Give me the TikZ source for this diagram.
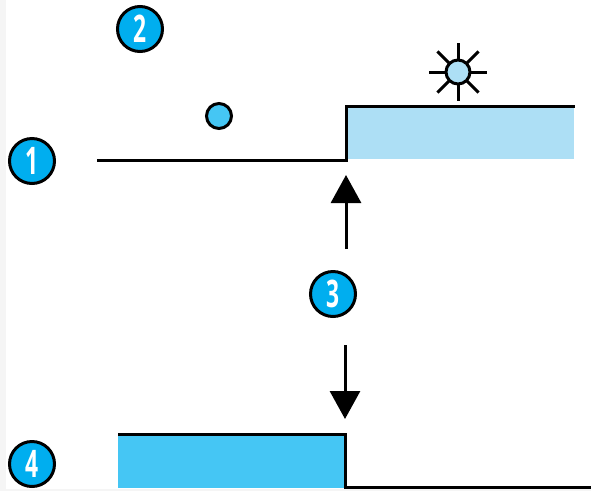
\documentclass[tikz,border=0pt]{standalone}
\usepackage{fontspec}
\setmainfont{Open Sans}
\usepackage{tikz}
\usetikzlibrary{arrows.meta}
\definecolor{badgeblue}{HTML}{00AEEF}
\definecolor{deepblue}{HTML}{45C6F4}
\definecolor{paleblue}{HTML}{ADDFF5}

\begin{document}
\begin{tikzpicture}[x=1pt,y=-1pt,
    badge/.style={circle,draw=black,line width=3pt,fill=badgeblue,minimum size=45pt,inner sep=0pt,
      text=white,font=\fontsize{38}{38}\selectfont\bfseries},
    level/.style={line width=3pt,line cap=rect},
    bigarrow/.style={line width=3pt,-{Triangle[length=28pt,width=30pt]}}]
          \useasboundingbox (0,0) rectangle (591,491);
          \fill[black!4] (0,0) rectangle (6,491);
          \fill[black!4] (0,489) rectangle (591,491);
          % upper level, the excited state
          \fill[paleblue] (346,106) rectangle (574,159);
          \draw[level] (98,160)--(346,160)--(346,106)--(573,106);
          \node[fill=deepblue,draw=black,line width=3pt,inner sep=0pt,minimum size=25pt,shape=circle] (dot) at (219,116) {};
          \foreach \a in {0,45,...,315}
            \draw[line width=3pt] (458,72)--++(\a:29);
          \node[fill=paleblue,draw=black,line width=3pt,inner sep=0pt,minimum size=24pt,shape=circle] (sun) at (458,72) {};
          % lower level
          \fill[deepblue] (118,434) rectangle (345,488);
          \draw[level] (119,434)--(345,434)--(345,487)--(591,487);
          % arrows
          \coordinate (upfrom) at (346,249);
          \coordinate (upto) at (346,175);
          \coordinate (downfrom) at (345,345);
          \coordinate (downto) at (345,419);
          \draw[bigarrow] (upfrom)--(upto);
          \draw[bigarrow] (downfrom)--(downto);
          % badges
          \node[badge] (b1) at (32,161) {\scalebox{0.6}[1]{1}};
          \node[badge] (b2) at (140,29) {\scalebox{0.6}[1]{2}};
          \node[badge] (b3) at (333,294) {\scalebox{0.6}[1]{3}};
          \node[badge] (b4) at (32,464) {\scalebox{0.6}[1]{4}};
        \end{tikzpicture}
\end{document}
